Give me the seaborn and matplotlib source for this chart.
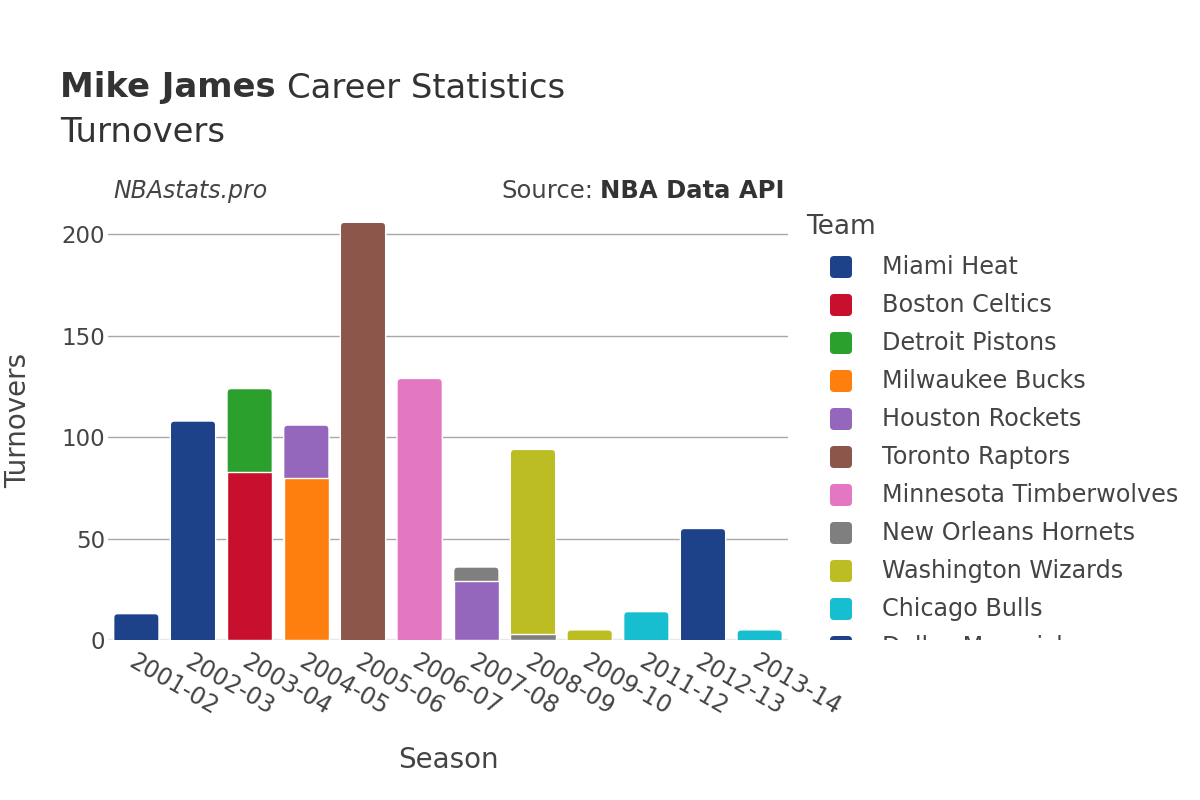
import numpy as np
import pandas as pd
import matplotlib.pyplot as plt
import seaborn as sns
from matplotlib.patches import FancyBboxPatch
from matplotlib.transforms import Bbox, IdentityTransform

seasons = ['2001-02', '2002-03', '2003-04', '2004-05', '2005-06', '2006-07',
           '2007-08', '2008-09', '2009-10', '2011-12', '2012-13', '2013-14']
teams = ['Miami Heat', 'Boston Celtics', 'Detroit Pistons', 'Milwaukee Bucks',
         'Houston Rockets', 'Toronto Raptors', 'Minnesota Timberwolves',
         'New Orleans Hornets', 'Washington Wizards', 'Chicago Bulls',
         'Dallas Mavericks']
team_colors = ['#1d428a', '#c8102e', '#2ca02c', '#ff7f0e', '#9467bd', '#8c564b',
               '#e377c2', '#7f7f7f', '#bcbd22', '#17becf', '#1d428a']

row_seasons = ['2001-02', '2002-03', '2003-04', '2003-04', '2004-05', '2004-05',
               '2005-06', '2006-07', '2007-08', '2007-08', '2008-09', '2008-09',
               '2009-10', '2011-12', '2012-13', '2013-14']
row_teams = ['Miami Heat', 'Miami Heat', 'Boston Celtics', 'Detroit Pistons',
             'Milwaukee Bucks', 'Houston Rockets', 'Toronto Raptors',
             'Minnesota Timberwolves', 'Houston Rockets', 'New Orleans Hornets',
             'New Orleans Hornets', 'Washington Wizards', 'Washington Wizards',
             'Chicago Bulls', 'Dallas Mavericks', 'Chicago Bulls']
row_turnovers = [13, 108, 83, 41, 80, 26, 206, 129, 29, 7, 3, 91, 5, 14, 55, 5]

TEXT = '#444444'

df = pd.DataFrame({'Season': row_seasons, 'Team': row_teams, 'Turnovers': row_turnovers})
df['rank'] = df['Team'].map({t: i for i, t in enumerate(teams)})
df = df.sort_values(['Season', 'rank'])
df['Top'] = df.groupby('Season')['Turnovers'].cumsum()
totals = df.groupby('Season')['Turnovers'].sum()

sns.set_theme(style='white')
plt.rcParams['font.family'] = ['DejaVu Sans']

fig = plt.figure(figsize=(12, 8), dpi=100)
ax = fig.add_axes([108 / 1200, 160 / 800, 680 / 1200, 440 / 800])

# stacked bars: draw cumulative tops, upper teams first so lower ones paint over
sns.barplot(data=df, x='Season', y='Top', hue='Team', order=seasons,
            hue_order=teams[::-1], palette=dict(zip(teams, team_colors)),
            dodge=False, width=0.8, saturation=1, edgecolor='white',
            linewidth=1, legend=False, ax=ax)

ax.set_xlim(-0.5, len(seasons) - 0.5)
ax.set_ylim(0, 217)

# rounded tops on the uppermost segment
px_x = 680 / len(seasons)
px_y = 440 / 217
r = 4 / px_x
asp = (4 / px_y) / r
for p in list(ax.patches):
    h = p.get_height()
    if not np.isfinite(h) or h <= 0:
        continue
    idx = int(round(p.get_x() + p.get_width() / 2))
    if abs(h - totals[seasons[idx]]) < 1e-6:
        p.set_visible(False)
        nb = FancyBboxPatch((p.get_x(), -6), p.get_width(), h + 6,
                            boxstyle=f'round,pad=0,rounding_size={r}',
                            mutation_aspect=asp, facecolor=p.get_facecolor(),
                            edgecolor='white', linewidth=1,
                            zorder=p.get_zorder() - 0.1)
        ax.add_patch(nb)

ax.set_axisbelow(True)
ax.grid(axis='y', color='#a8a8a8', linewidth=1)
ax.grid(axis='x', visible=False)
ax.axhline(0, color='#e8e8e8', linewidth=2.5, zorder=0.6)
sns.despine(ax=ax, left=True, bottom=True)

ax.set_yticks([0, 50, 100, 150, 200])
ax.tick_params(axis='y', length=0, pad=2, labelsize=16.5, labelcolor=TEXT)
ax.set_xticks(range(len(seasons)))
ax.set_xticklabels(seasons, rotation=-30, ha='left', va='top',
                   rotation_mode='anchor', fontsize=17, color=TEXT)
ax.tick_params(axis='x', length=0, pad=7)
ax.set_xlabel('')
ax.set_ylabel('')

fig.text(18 / 1200, 1 - 420 / 800, 'Turnovers', rotation=90, ha='center',
         va='center', fontsize=20, color=TEXT)
fig.text(448 / 1200, 1 - 760 / 800, 'Season', ha='center', va='center',
         fontsize=20, color=TEXT)

# title
renderer = fig.canvas.get_renderer()
t1 = fig.text(60 / 1200, 1 - 88 / 800, 'Mike James', fontsize=24.4,
              fontweight='bold', color='#333333', va='center')
bb = t1.get_window_extent(renderer)
fig.text(bb.x1 / 1200 + 11 / 1200, 1 - 88 / 800, 'Career Statistics',
         fontsize=24.4, color='#333333', va='center')
fig.text(60 / 1200, 1 - 132 / 800, 'Turnovers', fontsize=24.4,
         color='#333333', va='center')

fig.text(113 / 1200, 1 - 191 / 800, 'NBAstats.pro', fontsize=17,
         style='italic', color=TEXT, va='center')
s2 = fig.text(785 / 1200, 1 - 191 / 800, 'NBA Data API', fontsize=17.5,
              fontweight='bold', color='#333333', va='center', ha='right')
bb2 = s2.get_window_extent(renderer)
fig.text(bb2.x0 / 1200 - 7 / 1200, 1 - 191 / 800, 'Source:', fontsize=17.5,
         color=TEXT, va='center', ha='right')

# legend, cut off at the bottom like the original
fig.text(806 / 1200, 1 - 227 / 800, 'Team', fontsize=19, color=TEXT, va='center')
clip = Bbox([[0, 800 - 640], [1200, 800]])
for i, (team, col) in enumerate(zip(teams, team_colors)):
    yc = 267 + 38 * i
    sq = FancyBboxPatch((830, 800 - yc - 11), 22, 22,
                        boxstyle='round,pad=0,rounding_size=4',
                        facecolor=col, edgecolor='none',
                        transform=IdentityTransform())
    fig.add_artist(sq)
    sq.set_clip_box(clip)
    sq.set_clip_on(True)
    tx = fig.text(882 / 1200, 1 - yc / 800, team, fontsize=17.2, color=TEXT,
                  va='center')
    tx.set_clip_box(clip)
    tx.set_clip_on(True)

fig.savefig('out.png', dpi=100)
